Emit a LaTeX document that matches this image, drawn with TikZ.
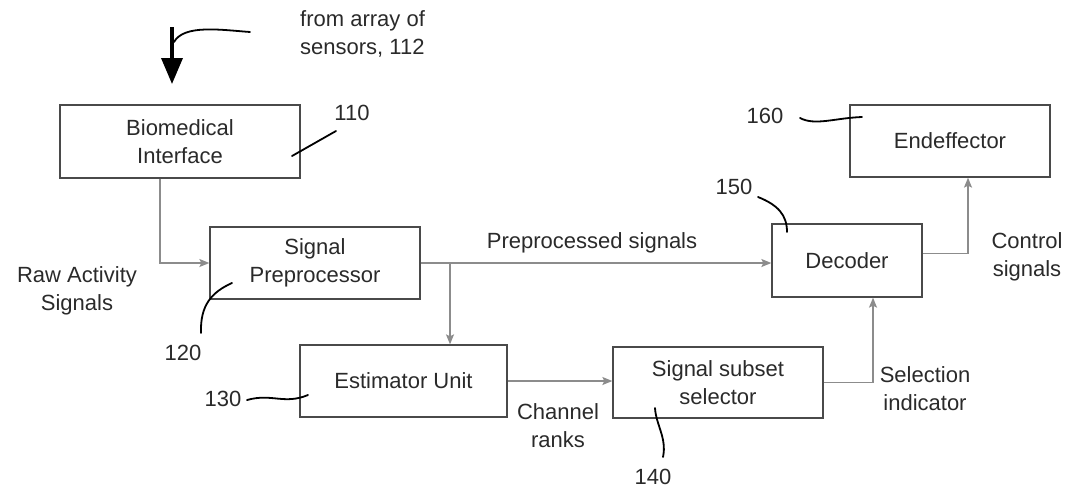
\documentclass[tikz,border=0pt]{standalone}
\usepackage{fontspec}
\setmainfont{Liberation Sans}
\usetikzlibrary{arrows.meta,calc}
\definecolor{boxline}{HTML}{4A4A4A}
\definecolor{flow}{HTML}{8C8C8C}
\definecolor{ink}{HTML}{2A2A2A}
\tikzset{
  block/.style={draw=boxline, line width=1.3pt, fill=white, inner sep=0pt,
    align=center, text=ink, font=\fontsize{22}{28}\selectfont},
  conn/.style={draw=flow, line width=1.4pt,
    -{Stealth[length=10pt,width=8pt,inset=2pt]}},
  leader/.style={draw=black, line width=1.8pt, line cap=round},
  lbl/.style={text=ink, align=center, inner sep=0pt,
    font=\fontsize{22}{28}\selectfont},
  bigarrow/.style={draw=black, line width=3.6pt,
    -{Triangle[length=26pt,width=21pt]}}
}
\begin{document}
\begin{tikzpicture}[x=1pt,y=-1pt]
\useasboundingbox (0,0) rectangle (1067,493);

% blocks
\node[block, minimum width=240pt, minimum height=73pt] (bio) at (180,141.5) {Biomedical\\Interface};
\node[block, minimum width=210pt, minimum height=72pt] (pre) at (315,263) {Signal\\Preprocessor};
\node[block, minimum width=207pt, minimum height=72pt] (est) at (403.5,381) {Estimator Unit};
\node[block, minimum width=210pt, minimum height=71pt] (sel) at (718,382.5) {Signal subset\\selector};
\node[block, minimum width=150pt, minimum height=73pt] (dec) at (847,260.5) {Decoder};
\node[block, minimum width=200pt, minimum height=72pt] (end) at (950,141) {Endeffector};

% signal flow
\draw[conn] ([xshift=-20pt]bio.south) |- (pre.west);
\draw[conn] (pre.east) -- (pre.east -| dec.west);
\coordinate (split) at (450,263);
\draw[conn] (split) -- (split |- est.north);
\draw[conn] (est.east) -- (est.east -| sel.west);
\draw[conn] (sel.east) -| ([xshift=26pt]dec.south);
\draw[conn] ([yshift=7pt]dec.east) -| ([xshift=18pt]end.south);

% input from the sensor array
\coordinate (inTop) at (172,27);
\coordinate (inTip) at (172,84);
\draw[bigarrow] (inTop) -- (inTip);
\coordinate (inTail) at (250,32);
\coordinate (inJoin) at (174,42);
\draw[leader] (inTail) .. controls (222,30) and (184,24) .. (inJoin);
\node[lbl, align=left, anchor=west] (src) at (300,34) {from array of\\sensors, 112};

% free labels
\node[lbl] (pslbl) at (592,243) {Preprocessed signals};
\node[lbl] (raw) at (77,291) {Raw Activity\\Signals};
\node[lbl] (chr) at (558,426) {Channel\\ranks};
\node[lbl] (sind) at (925,389) {Selection\\indicator};
\node[lbl] (ctl) at (1027,257) {Control\\signals};

% reference numerals and leaders
\node[lbl] (n110) at (352,113) {110};
\coordinate (l110a) at (292,156);
\coordinate (l110b) at (336,131);
\draw[leader] (l110a) -- (l110b);

\node[lbl] (n120) at (183,353) {120};
\coordinate (l120a) at (201,333);
\coordinate (l120b) at (232,283);
\draw[leader] (l120a) .. controls (200,305) and (212,292) .. (l120b);

\node[lbl] (n130) at (223,399) {130};
\coordinate (l130a) at (247,400);
\coordinate (l130b) at (308,395);
\draw[leader] (l130a) .. controls (272,393) and (284,405) .. (l130b);

\node[lbl] (n140) at (653,477) {140};
\coordinate (l140a) at (663,457);
\coordinate (l140b) at (655,408);
\draw[leader] (l140a) .. controls (667,438) and (656,425) .. (l140b);

\node[lbl] (n150) at (734,187) {150};
\coordinate (l150a) at (758,197);
\coordinate (l150b) at (787,232);
\draw[leader] (l150a) .. controls (778,205) and (787,215) .. (l150b);

\node[lbl] (n160) at (765,116) {160};
\coordinate (l160a) at (800,118);
\coordinate (l160b) at (862,117);
\draw[leader] (l160a) .. controls (815,126) and (835,118) .. (l160b);
\end{tikzpicture}
\end{document}
